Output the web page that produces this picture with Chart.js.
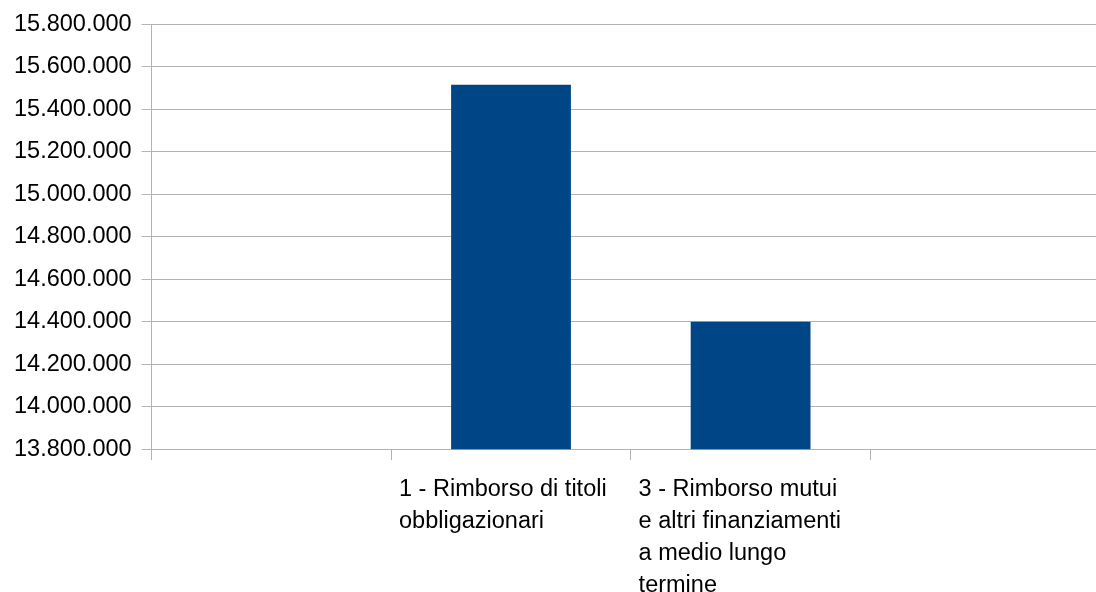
<!DOCTYPE html>
<html>
<head>
<meta charset="utf-8">
<script src="https://cdn.jsdelivr.net/npm/chart.js@4/dist/chart.umd.min.js"></script>
<style>
  html, body { margin: 0; padding: 0; background: #fff; overflow: hidden; }
  canvas { display: block; }
</style>
</head>
<body>
<canvas id="spesaChart" width="1110" height="614"></canvas>
<script>
'use strict';

// categorie (la prima e l'ultima sono vuote)
var categorie = [
    '',
    ['1 - Rimborso di titoli', 'obbligazionari'],
    ['3 - Rimborso mutui', 'e altri finanziamenti', 'a medio lungo', 'termine'],
    ''
];
// importi
var importi = [null, 15515000, 14400000, null];
// asse y
var asseMin = 13800000;
var asseMax = 15800000;
var assePasso = 200000;

// 15800000 -> 15.800.000
function formatta(n) {
    return String(n).replace(/\B(?=(\d{3})+(?!\d))/g, '.');
}

var griglia = '#b3b3b3';
var ctx = document.getElementById('spesaChart').getContext('2d');
var chart = new Chart(ctx, {
    type: 'bar',
    data: {
        labels: categorie,
        datasets: [
            {
                data: importi,
                backgroundColor: '#004586',
                categoryPercentage: 1,
                barPercentage: 0.5
            }
        ]
    },
    options: {
        responsive: false,
        animation: false,
        layout: { padding: { top: 17, left: 4, right: 0, bottom: 0 } },
        plugins: { legend: { display: false }, tooltip: { enabled: false } },
        scales: {
            x: {
                grid: { drawOnChartArea: false, drawTicks: true, tickLength: 11, color: griglia, lineWidth: 1 },
                border: { color: griglia },
                ticks: {
                    color: '#000',
                    autoSkip: false,
                    maxRotation: 0,
                    align: 'start',
                    labelOffset: -112,
                    padding: 13,
                    font: { family: '"Liberation Sans", Arial, sans-serif', size: 23.5, lineHeight: 1.36 }
                }
            },
            y: {
                min: asseMin,
                max: asseMax,
                grid: { color: griglia, tickLength: 10, lineWidth: 1 },
                border: { color: griglia },
                ticks: {
                    stepSize: assePasso,
                    color: '#000',
                    padding: 10,
                    font: { family: '"Liberation Sans", Arial, sans-serif', size: 23.5 },
                    callback: function (v) { return formatta(v); }
                }
            }
        }
    }
});
</script>
</body>
</html>
